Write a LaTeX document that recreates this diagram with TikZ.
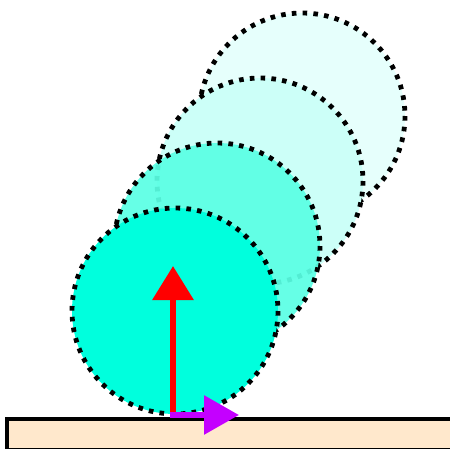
\documentclass[tikz,border=0pt]{standalone}
\usetikzlibrary{arrows.meta}
\definecolor{cyanA}{RGB}{0,255,221}
\definecolor{cyanB}{RGB}{90,255,228}
\definecolor{cyanC}{RGB}{204,255,248}
\definecolor{cyanD}{RGB}{230,255,252}
\definecolor{groundfill}{RGB}{255,232,204}
\definecolor{purpleArrow}{RGB}{196,0,255}
\tikzset{
  ball/.style={line width=4.8pt, dash pattern=on 4.6pt off 6.2pt, draw=black},
  groundbox/.style={draw=black, line width=3.4pt, fill=groundfill},
  upforce/.style={draw=red, line width=6.5pt, -{Triangle[length=34pt,width=40pt]}},
  sideforce/.style={draw=purpleArrow, line width=6pt, -{Triangle[length=35pt,width=38pt]}}
}
\begin{document}
\begin{tikzpicture}[x=1pt,y=-1pt]
\useasboundingbox (0,0) rectangle (450,448);
\draw[groundbox] (7,419) rectangle (460,449.3);
\draw[ball, fill=cyanD] (302,116) circle (103);
\draw[ball, fill=cyanC] (260,181) circle (103);
\draw[ball, fill=cyanB, fill opacity=0.93] (217,246) circle (103);
\draw[ball, fill=cyanA] (175,311) circle (103);
\coordinate (upbase) at (173,414);
\coordinate (uptip) at (173,266);
\coordinate (sidebase) at (170,415);
\coordinate (sidetip) at (239,415);
\draw[upforce] (upbase) -- (uptip);
\draw[sideforce] (sidebase) -- (sidetip);
\end{tikzpicture}
\end{document}
